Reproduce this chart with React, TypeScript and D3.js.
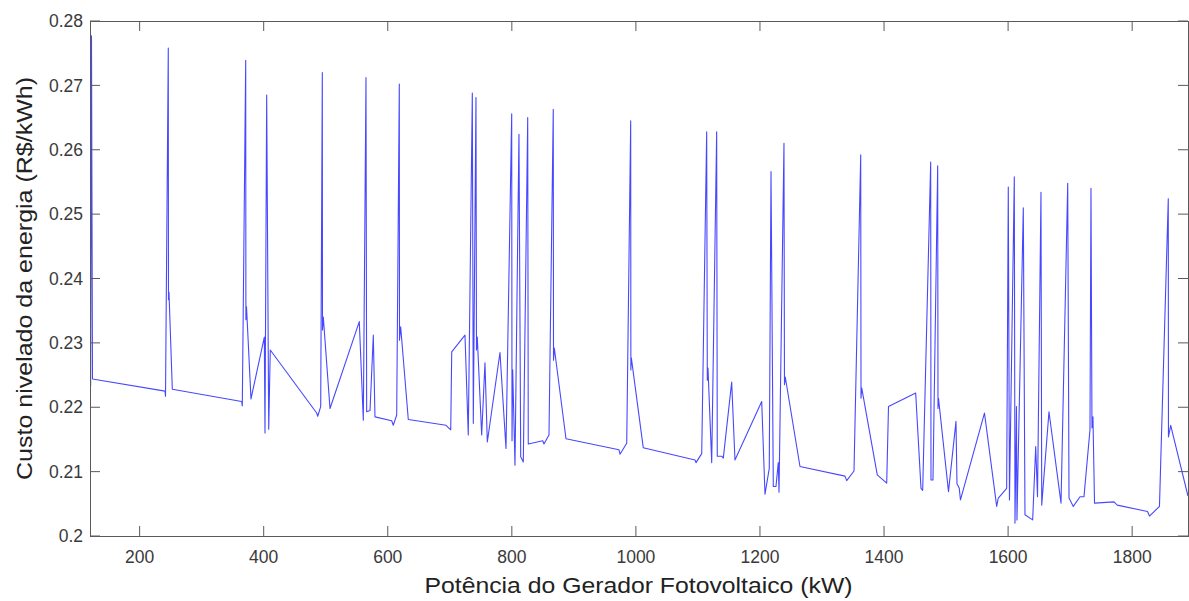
import React from "react";
import * as d3 from "d3";

const potencia = [
  121, 122.4, 124.0, 240.9, 241.7, 246.2, 246.5, 247.3, 252.7, 364.5, 365.5, 371.0, 371.3, 372.3, 379.5,
  401.0, 402.1, 404.8, 408.1, 410.6, 485.4, 487.1, 491.9, 494.5, 494.8, 496.1, 506.9, 554.1, 560.6, 564.9,
  566.0, 571.4, 576.7, 579.4, 606.3, 608.9, 614.4, 618.6, 618.9, 620.8, 633.1, 693.9, 701.5, 703.1, 724.5,
  729.8, 736.3, 737.9, 742.2, 743.0, 744.3, 751.4, 756.7, 760.5, 780.9, 790.6, 799.8, 800.3, 801.4, 805.1,
  811.5, 814.3, 818.5, 825.6, 826.5, 849.8, 851.8, 859.9, 866.8, 867.2, 868.5, 887.3, 972.7, 974.4, 985.2,
  991.6, 991.9, 992.6, 1011.9, 1095.3, 1096.9, 1106.1, 1114.1, 1115.1, 1116.2, 1122.2, 1130.2, 1131.2, 1138.3, 1140.9,
  1154.4, 1159.7, 1202.8, 1208.1, 1215.0, 1217.8, 1221.5, 1225.8, 1229.5, 1230.7, 1238.7, 1239.5, 1240.8, 1264.5, 1337.1,
  1339.8, 1351.6, 1362.4, 1362.9, 1364.0, 1389.1, 1404.3, 1407.2, 1451.0, 1459.6, 1462.3, 1475.2, 1475.7, 1478.9, 1486.5,
  1487.0, 1487.8, 1503.9, 1516.0, 1517.6, 1521.3, 1523.2, 1561.9, 1581.6, 1584.2, 1597.7, 1600.3, 1602.2, 1610.0, 1611.1,
  1613.5, 1614.3, 1624.5, 1627.2, 1639.6, 1644.5, 1647.4, 1653.0, 1654.2, 1665.9, 1685.3, 1696.1, 1698.2, 1705.1, 1715.9,
  1722.3, 1732.0, 1733.6, 1735.2, 1736.8, 1739.3, 1770.7, 1776.0, 1824.7, 1827.9, 1844.0, 1858.2, 1858.5, 1862.1, 1890,
];

const custo = [
  0.2233, 0.2777, 0.2244, 0.2225, 0.2217, 0.2758, 0.2367, 0.2379, 0.2228, 0.2209, 0.2202, 0.2739, 0.2336, 0.2356, 0.2213,
  0.2309, 0.2160, 0.2685, 0.2166, 0.2289, 0.2191, 0.2186, 0.2201, 0.2720, 0.2320, 0.2340, 0.2198, 0.2333, 0.2180, 0.2712,
  0.2193, 0.2195, 0.2312, 0.2185, 0.2179, 0.2172, 0.2188, 0.2702, 0.2304, 0.2325, 0.2181, 0.2172, 0.2165, 0.2286, 0.2312,
  0.2157, 0.2688, 0.2175, 0.2681, 0.2289, 0.2309, 0.2157, 0.2269, 0.2146, 0.2285, 0.2136, 0.2656, 0.2148, 0.2258, 0.2110,
  0.2624, 0.2123, 0.2115, 0.2650, 0.2143, 0.2148, 0.2143, 0.2157, 0.2663, 0.2273, 0.2292, 0.2151, 0.2134, 0.2127, 0.2144,
  0.2645, 0.2258, 0.2277, 0.2137, 0.2118, 0.2114, 0.2128, 0.2628, 0.2242, 0.2261, 0.2114, 0.2628, 0.2124, 0.2124, 0.2121,
  0.2239, 0.2118, 0.2209, 0.2065, 0.2105, 0.2566, 0.2077, 0.2077, 0.2114, 0.2068, 0.2610, 0.2235, 0.2247, 0.2108, 0.2093,
  0.2086, 0.2101, 0.2592, 0.2214, 0.2230, 0.2095, 0.2082, 0.2201, 0.2222, 0.2074, 0.2071, 0.2581, 0.2087, 0.2087, 0.2575,
  0.2198, 0.2214, 0.2069, 0.2178, 0.2081, 0.2074, 0.2056, 0.2191, 0.2046, 0.2059, 0.2074, 0.2542, 0.2056, 0.2558, 0.2020,
  0.2201, 0.2025, 0.2510, 0.2033, 0.2025, 0.2139, 0.2061, 0.2534, 0.2048, 0.2193, 0.2051, 0.2548, 0.2059, 0.2046, 0.2061,
  0.2061, 0.2165, 0.2540, 0.2168, 0.2185, 0.2051, 0.2053, 0.2048, 0.2038, 0.2031, 0.2046, 0.2524, 0.2154, 0.2172, 0.2062,
];

const xTicks = [200, 400, 600, 800, 1000, 1200, 1400, 1600, 1800];
const yTicks = [0.2, 0.21, 0.22, 0.23, 0.24, 0.25, 0.26, 0.27, 0.28];
const yTickLabels = ["0.2", "0.21", "0.22", "0.23", "0.24", "0.25", "0.26", "0.27", "0.28"];
const xLabel = "Potência do Gerador Fotovoltaico (kW)";
const yLabel = "Custo nivelado da energia (R$/kWh)";

export default function App() {
  const W = 1189;
  const H = 601;
  const L = 90, R = 1188, T = 21, B = 536;
  const x = d3.scaleLinear().domain([120, 1890]).range([L, R]);
  const y = d3.scaleLinear().domain([0.2, 0.28]).range([B, T]);
  const pts: [number, number][] = potencia.map((p, i) => [p, custo[i]]);
  const line = d3.line<[number, number]>().x((d) => x(d[0])).y((d) => y(d[1]));
  const font = "'Liberation Sans', Arial, Helvetica, sans-serif";
  const axisColor = "#5a5a5a";
  const textColor = "#3a3a3a";
  const tl = 10;
  return (
    <svg width={W} height={H} style={{ position: "absolute", left: 0, top: 0, background: "#fff" }}>
      <defs>
        <clipPath id="plotclip">
          <rect x={L} y={T} width={R - L} height={B - T} />
        </clipPath>
      </defs>
      <rect x={0} y={0} width={W} height={H} fill="#fff" />
      <path
        d={line(pts) || ""}
        fill="none"
        stroke="#0000ff"
        strokeOpacity={0.72}
        strokeWidth={1.1}
        strokeLinejoin="round"
        clipPath="url(#plotclip)"
      />
      <rect x={L + 0.5} y={T + 0.5} width={R - L} height={B - T} fill="none" stroke={axisColor} strokeWidth={1} />
      {xTicks.map((t) => (
        <g key={"x" + t}>
          <line x1={x(t)} x2={x(t)} y1={B} y2={B - tl} stroke={axisColor} />
          <line x1={x(t)} x2={x(t)} y1={T} y2={T + tl} stroke={axisColor} />
          <text x={x(t)} y={563} textAnchor="middle" fontFamily={font} fontSize={17.5} fill={textColor}>
            {t}
          </text>
        </g>
      ))}
      {yTicks.map((t, i) => (
        <g key={"y" + t}>
          <line x1={L} x2={L + tl} y1={y(t)} y2={y(t)} stroke={axisColor} />
          <line x1={R} x2={R - tl} y1={y(t)} y2={y(t)} stroke={axisColor} />
          <text x={83} y={y(t)} dy="0.35em" textAnchor="end" fontFamily={font} fontSize={17.5} fill={textColor}>
            {yTickLabels[i]}
          </text>
        </g>
      ))}
      <text
        x={(L + R) / 2 - 0.5}
        y={593}
        textAnchor="middle"
        fontFamily={font}
        fontSize={22.5}
        textLength={428}
        lengthAdjust="spacingAndGlyphs"
        fill="#222"
      >
        {xLabel}
      </text>
      <text
        transform={`translate(32, ${(T + B) / 2}) rotate(-90)`}
        textAnchor="middle"
        fontFamily={font}
        fontSize={22.5}
        textLength={403}
        lengthAdjust="spacingAndGlyphs"
        fill="#222"
      >
        {yLabel}
      </text>
    </svg>
  );
}
